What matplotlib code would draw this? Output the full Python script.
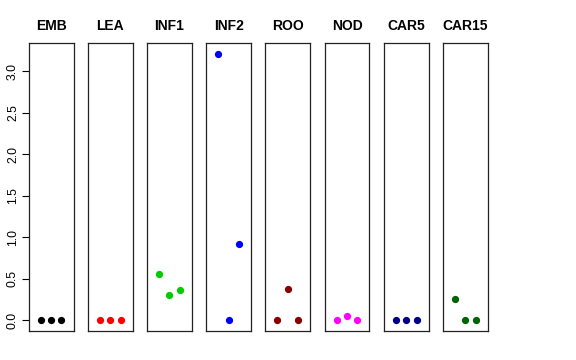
import matplotlib
matplotlib.use("Agg")
import matplotlib.pyplot as plt

plt.rcParams['font.family'] = ['Liberation Sans', 'DejaVu Sans']

tissues = ["EMB", "LEA", "INF1", "INF2", "ROO", "NOD", "CAR5", "CAR15"]
colors = ["black", "red", "#00CD00", "blue", "#8B0000", "magenta", "#00008B", "#006400"]
reps = [1, 2, 3]
values = [
    [0.0, 0.0, 0.0],
    [0.0, 0.0, 0.0],
    [0.56, 0.30, 0.365],
    [3.21, 0.0, 0.92],
    [0.0, 0.375, 0.0],
    [0.0, 0.055, 0.0],
    [0.0, 0.0, 0.0],
    [0.26, 0.0, 0.0],
]
yticks = [0.0, 0.5, 1.0, 1.5, 2.0, 2.5, 3.0]

ymax = max(max(v) for v in values)
pad = ymax * 0.04

fig, axs = plt.subplots(1, 8, figsize=(5.76, 3.6), dpi=100, sharey=True)
fig.subplots_adjust(left=0.0498, right=0.847, top=0.8806, bottom=0.0806, wspace=0.32)

for i, ax in enumerate(axs):
    ax.plot(reps, values[i], 'o', color=colors[i], markersize=4.2)
    ax.set_xlim(-0.16, 4.16)
    ax.set_ylim(-pad, ymax + pad)
    ax.set_title(tissues[i], fontsize=10, fontweight='bold', pad=9)
    ax.set_xticks([])
    for s in ax.spines.values():
        s.set_linewidth(0.9)
        s.set_color('#222222')
    if i == 0:
        ax.set_yticks(yticks)
        ax.set_yticklabels([f"{t:.1f}" for t in yticks], rotation=90, va='center', fontsize=8.8)
        ax.tick_params(axis='y', length=5, width=0.8, pad=2)
    else:
        ax.tick_params(axis='y', left=False, labelleft=False)

fig.savefig("out.png", dpi=100)
